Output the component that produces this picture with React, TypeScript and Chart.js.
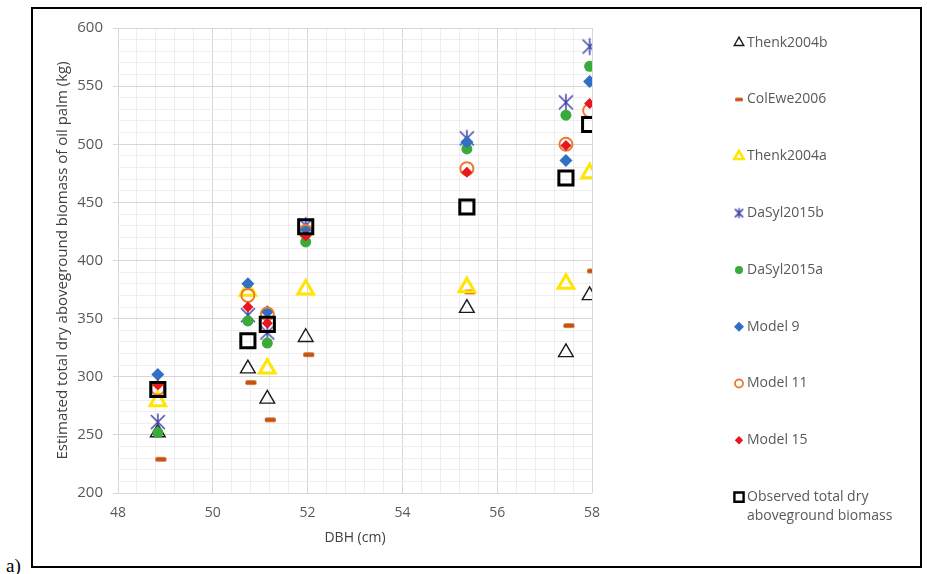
import React, { useEffect, useRef } from 'react';
import { Chart, registerables } from 'chart.js';
import { drawPoint } from 'chart.js/helpers';

Chart.register(...registerables);

// Stem diameter of the sampled palms (cm)
const DBH = [48.84, 50.74, 51.15, 51.96, 55.36, 57.45, 57.95];

// Estimated total dry aboveground biomass (kg) per equation
const THENK2004B = [252, 307, 281, 334, 359, 321, 370];
const COLEWE2006 = [229, 295, 263, 319, 373, 344, 391];
const THENK2004A = [279, 374, 307, 375, 377, 380, 475];
const DASYL2015B = [261, 353, 338, 430, 505, 536, 584];
const DASYL2015A = [252, 348, 329, 416, 496, 525, 567];
const MODEL9 = [302, 380, 356, 427, 502, 486, 554];
const MODEL11 = [290, 370, 354, 425, 479, 500, 529];
const MODEL15 = [293, 360, 346, 421, 476, 499, 535];
const OBSERVED = [289, 331, 345, 429, 446, 471, 517];

const SERIES_NAMES = [
  'Thenk2004b',
  'ColEwe2006',
  'Thenk2004a',
  'DaSyl2015b',
  'DaSyl2015a',
  'Model 9',
  'Model 11',
  'Model 15',
  'Observed total dry aboveground biomass',
];
const LEGEND_LINES = [
  ['Thenk2004b'],
  ['ColEwe2006'],
  ['Thenk2004a'],
  ['DaSyl2015b'],
  ['DaSyl2015a'],
  ['Model 9'],
  ['Model 11'],
  ['Model 15'],
  ['Observed total dry', 'aboveground biomass'],
];
const SERIES_VALUES = [
  THENK2004B, COLEWE2006, THENK2004A, DASYL2015B, DASYL2015A,
  MODEL9, MODEL11, MODEL15, OBSERVED,
];

const X_TICK_LABELS = ['48', '50', '52', '54', '56', '58'];
const Y_TICK_LABELS = ['200', '250', '300', '350', '400', '450', '500', '550', '600'];

const X_TITLE = 'DBH (cm)';
const Y_TITLE = 'Estimated total dry aboveground biomass of oil palm (kg)';

const MAJOR_GRID = '#DAD6D8';
const MINOR_GRID = '#EFEDEE';
const TICK_COLOR = '#595959';
const TITLE_COLOR = '#404040';
const FONT = '"Open Sans", "DejaVu Sans", sans-serif';

function makeAsterisk(size: number, lw: number, color: string) {
  const c = document.createElement('canvas');
  const s = Math.ceil(size + lw * 2);
  c.width = s;
  c.height = s;
  const g = c.getContext('2d')!;
  const m = s / 2;
  const h = size / 2;
  const d = h * 0.82;
  g.strokeStyle = color;
  g.lineWidth = lw;
  g.lineCap = 'butt';
  g.beginPath();
  g.moveTo(m - d, m - d);
  g.lineTo(m + d, m + d);
  g.moveTo(m + d, m - d);
  g.lineTo(m - d, m + d);
  g.moveTo(m, m - h);
  g.lineTo(m, m + h);
  g.stroke();
  return c;
}

function makeDash(w: number, h: number, shift: number, color: string) {
  const c = document.createElement('canvas');
  const cw = Math.ceil(w + Math.abs(shift) * 2 + 2);
  const ch = Math.ceil(h + 2);
  c.width = cw;
  c.height = ch;
  const g = c.getContext('2d')!;
  g.fillStyle = color;
  const x0 = cw / 2 + shift - w / 2;
  const y0 = ch / 2 - h / 2;
  const r = Math.min(h / 2, 1.5);
  g.beginPath();
  g.roundRect(x0, y0, w, h, r);
  g.fill();
  return c;
}

export default function App() {
  const ref = useRef<HTMLCanvasElement | null>(null);

  useEffect(() => {
    if (!ref.current) return;

    const asteriskColor = '#4444A6';
    const dashColor = '#C4530F';

    // marker settings for each series: plot marker and small legend marker
    const MARKERS: any[] = [
      { style: 'triangle', r: 8.5, bw: 1.4, fill: 'rgba(0,0,0,0)', stroke: '#1A1A1A', lStyle: 'triangle', lr: 5.5, lbw: 1.4 },
      { style: makeDash(11, 4.5, 3, dashColor), r: 6, bw: 0, fill: dashColor, stroke: dashColor, lStyle: makeDash(8, 3.5, 0, dashColor), lr: 4, lbw: 0 },
      { style: 'triangle', r: 9, bw: 3, fill: 'rgba(0,0,0,0)', stroke: '#FFE500', lStyle: 'triangle', lr: 5.5, lbw: 2.5 },
      { style: makeAsterisk(17, 1.5, asteriskColor), r: 8, bw: 0, fill: asteriskColor, stroke: asteriskColor, lStyle: makeAsterisk(10, 1.5, asteriskColor), lr: 5, lbw: 0 },
      { style: 'circle', r: 5.5, bw: 0, fill: '#3AAA3A', stroke: '#3AAA3A', lStyle: 'circle', lr: 4, lbw: 0 },
      { style: 'rectRot', r: 6.5, bw: 0, fill: '#2F6FC4', stroke: '#2F6FC4', lStyle: 'rectRot', lr: 5, lbw: 0 },
      { style: 'circle', r: 6.5, bw: 2, fill: 'rgba(0,0,0,0)', stroke: '#EE7A30', lStyle: 'circle', lr: 4, lbw: 1.8 },
      { style: 'rectRot', r: 5.5, bw: 0, fill: '#E8161E', stroke: '#E8161E', lStyle: 'rectRot', lr: 4.2, lbw: 0 },
      { style: 'rect', r: 10, bw: 3, fill: 'rgba(0,0,0,0)', stroke: '#000000', lStyle: 'rect', lr: 6.5, lbw: 2.4 },
    ];

    const LEGEND_MARK_X = 706;
    const LEGEND_TEXT_X = 714;
    const LEGEND_TOP = 33.7;
    const LEGEND_STEP = 56.8;
    const LEGEND_LINE_GAP = 19;

    const sideLegend = {
      id: 'sideLegend',
      afterDraw(chart: any) {
        const ctx = chart.ctx as CanvasRenderingContext2D;
        ctx.save();
        MARKERS.forEach((m, i) => {
          const y = LEGEND_TOP + i * LEGEND_STEP;
          ctx.fillStyle = m.fill;
          ctx.strokeStyle = m.stroke;
          ctx.lineWidth = m.lbw;
          drawPoint(ctx, { pointStyle: m.lStyle, radius: m.lr, rotation: 0, borderWidth: m.lbw } as any, LEGEND_MARK_X, y);
          ctx.fillStyle = TICK_COLOR;
          ctx.font = `14px ${FONT}`;
          ctx.textAlign = 'left';
          ctx.textBaseline = 'middle';
          LEGEND_LINES[i].forEach((line, k) => {
            ctx.fillText(line, LEGEND_TEXT_X, y + k * LEGEND_LINE_GAP);
          });
        });
        ctx.restore();
      },
    };

    const isMajor = (v: number, step: number) => Math.abs(v / step - Math.round(v / step)) < 1e-6;

    const datasets = SERIES_NAMES.map((name, i) => {
      const m = MARKERS[i];
      return {
        label: name,
        data: DBH.map((x, k) => ({ x, y: SERIES_VALUES[i][k] })),
        showLine: false,
        pointStyle: m.style,
        pointRadius: m.r,
        pointHoverRadius: m.r,
        pointBorderWidth: m.bw,
        pointBackgroundColor: m.fill,
        pointBorderColor: m.stroke,
        // later series sit on top of earlier ones
        order: SERIES_NAMES.length - i,
      };
    });

    const chart = new Chart(ref.current, {
      type: 'scatter',
      data: { datasets },
      plugins: [sideLegend],
      options: {
        responsive: false,
        animation: false,
        events: [],
        layout: { padding: { left: 0, top: 16, right: 328, bottom: 0 } },
        plugins: {
          legend: { display: false },
          tooltip: { enabled: false },
        },
        scales: {
          x: {
            type: 'linear',
            min: 48,
            max: 58,
            afterFit: (s: any) => { s.height = 73; },
            border: { display: false },
            grid: {
              drawTicks: false,
              color: (c: any) => (isMajor(c.tick.value, 2) ? MAJOR_GRID : MINOR_GRID),
              lineWidth: 1,
            },
            ticks: {
              stepSize: 0.4,
              autoSkip: false,
              maxRotation: 0,
              padding: 12,
              color: TICK_COLOR,
              font: { family: FONT, size: 14 },
              callback: (v: any) => {
                const n = Number(v);
                if (!isMajor(n, 2)) return '';
                const s = String(Math.round(n));
                return X_TICK_LABELS.includes(s) ? s : '';
              },
            },
            title: {
              display: true,
              text: X_TITLE,
              color: TITLE_COLOR,
              font: { family: FONT, size: 14 },
              padding: { top: 0, bottom: 20 },
            },
          },
          y: {
            type: 'linear',
            min: 200,
            max: 600,
            afterFit: (s: any) => { s.width = 85; },
            border: { display: false },
            grid: {
              drawTicks: true,
              tickLength: 5,
              color: (c: any) => (isMajor(c.tick.value, 50) ? MAJOR_GRID : MINOR_GRID),
              tickColor: (c: any) => (isMajor(c.tick.value, 50) ? MAJOR_GRID : 'rgba(0,0,0,0)'),
              lineWidth: 1,
            },
            ticks: {
              stepSize: 10,
              autoSkip: false,
              padding: 10,
              color: TICK_COLOR,
              font: { family: FONT, size: 15 },
              callback: (v: any) => {
                const s = String(Math.round(Number(v)));
                return Y_TICK_LABELS.includes(s) ? s : '';
              },
            },
            title: {
              display: true,
              text: Y_TITLE,
              color: TITLE_COLOR,
              font: { family: FONT, size: 15 },
              padding: { top: 21, bottom: 0 },
            },
          },
        },
      } as any,
    });

    return () => chart.destroy();
  }, []);

  return (
    <div style={{ position: 'fixed', left: 0, top: 0, width: 927, height: 574, background: '#fff', overflow: 'hidden' }}>
      <div
        style={{
          position: 'absolute',
          left: 31,
          top: 7,
          width: 891,
          height: 561,
          border: '2px solid #000',
          boxSizing: 'border-box',
        }}
      >
        <canvas ref={ref} width={887} height={557} style={{ position: 'absolute', left: 0, top: 0, width: 887, height: 557 }} />
      </div>
      <div
        style={{
          position: 'absolute',
          left: 6,
          top: 555,
          fontFamily: '"Liberation Serif", serif',
          fontSize: 19,
          lineHeight: 'normal',
          color: '#000',
        }}
      >
        a)
      </div>
    </div>
  );
}
